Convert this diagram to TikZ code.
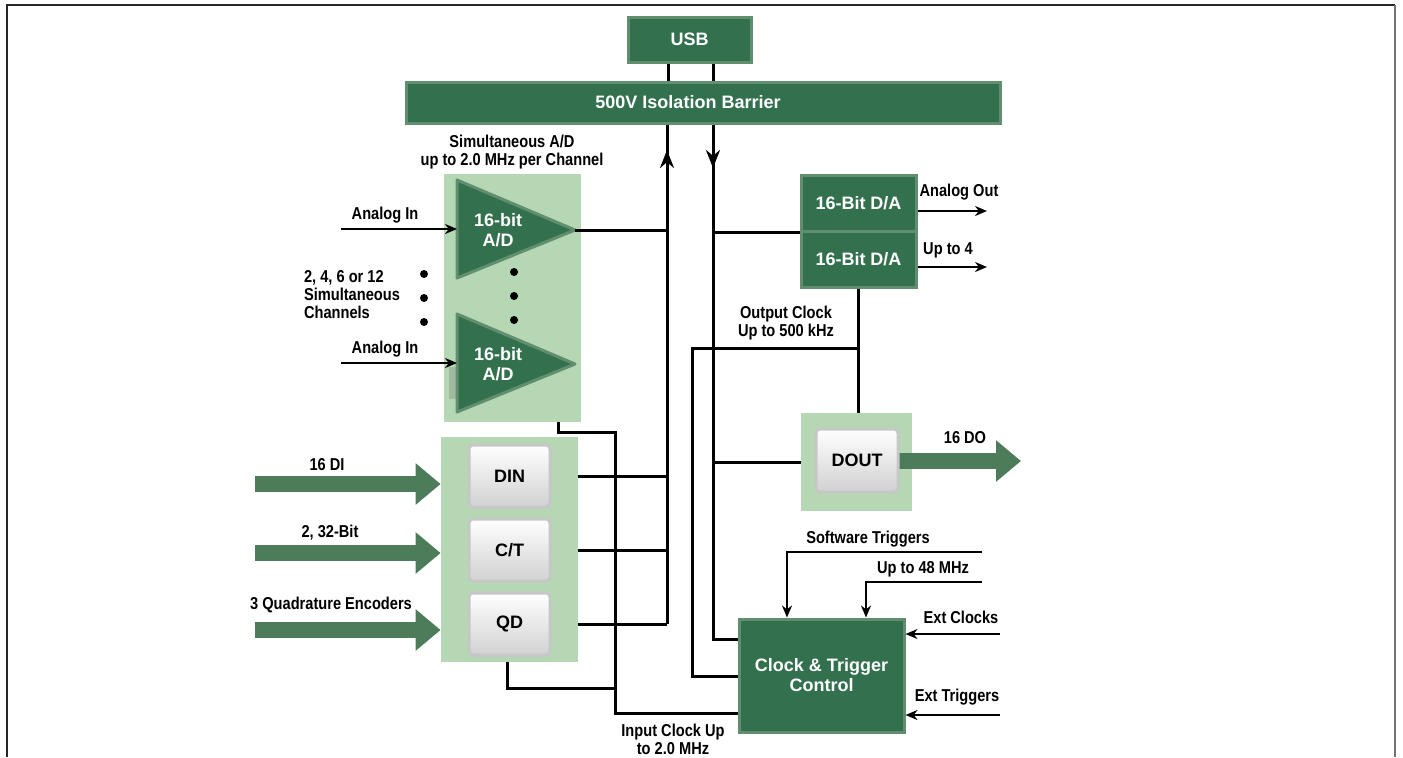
\documentclass[tikz,border=0pt]{standalone}
\usepackage{fontspec}
\setmainfont{Liberation Sans}
\newfontfamily\narrowfont[FakeStretch=0.85]{Liberation Sans}
\usetikzlibrary{arrows.meta}
\definecolor{boardgreen}{RGB}{50,112,78}
\definecolor{bevelgreen}{RGB}{96,142,110}
\definecolor{arrowgreen}{RGB}{76,124,90}
\definecolor{panelgreen}{RGB}{181,215,179}
\definecolor{shadegreen}{RGB}{160,186,160}
\newcommand{\dqlabel}{\narrowfont\bfseries\fontsize{8.6}{9}\selectfont}
\newcommand{\dqbox}{\bfseries\fontsize{9}{10}\selectfont}
\tikzset{
  greenbox/.style={draw=bevelgreen, line width=1.5pt, fill=boardgreen, text=white, font=\dqbox, align=center, inner sep=0pt},
  panel/.style={fill=panelgreen, inner sep=0pt},
  button/.style={draw=black!22, line width=1.5pt, top color=white, middle color=white, bottom color=black!18, rounded corners=2pt, font=\dqbox, inner sep=0pt, minimum width=40.5pt, minimum height=31pt},
  amp/.style={draw=bevelgreen, line width=1.5pt, fill=boardgreen, line join=round},
  wire/.style={line width=1.5pt},
  sig/.style={line width=1.2pt, ->},
  fat/.style={line width=8pt, arrowgreen, -{Triangle[length=12.5pt,width=20pt]}},
  busarrow/.style={line width=1.5pt, -{Stealth[length=9pt,width=7pt]}}
}
\begin{document}
\begin{tikzpicture}[x=0.5pt, y=-0.5pt, >={Stealth[length=6pt,width=5pt]}, font=\dqlabel]
\useasboundingbox (0,0) rectangle (1403,757);
% frame
\draw[line width=1pt, black!85] (7,757) -- (7,5) -- (1395,5);
\draw[line width=1.2pt, black!55] (1395,5) -- (1395,757);

% usb and barrier
\node[greenbox, minimum width=61.5pt, minimum height=22.5pt] (usb) at (689.5,39.5) {USB};
\node[greenbox, minimum width=297pt, minimum height=20.5pt] (barrier) at (703,102.5) {\hspace*{-15pt}500V Isolation Barrier};
\foreach \x in {668,713} \draw[wire] (\x,0 |- usb.south) -- (\x,0 |- barrier.north);

% simultaneous A/D
\node[panel, minimum width=68.5pt, minimum height=124pt] (adpanel) at (512.5,298) {};
\fill[shadegreen] (449,367) rectangle (457,399);
\foreach \y/\n in {230/adA, 364/adB}{
  \draw[amp] (457,{\y-50}) -- (575,\y) coordinate (tip\n) -- (457,{\y+48}) -- cycle;
  \node[text=white, font=\dqbox, align=center] (\n) at (498,\y) {16-bit\\A/D};
  \coordinate (in\n) at (341,{\y-1});
  \draw[sig] (in\n) -- (457,{\y-1});
  \node (lbl\n) at (385,{\y-15}) {Analog In};
}
\foreach \y in {274,298,322} \fill (424,\y) circle (2pt) (514,{\y-2}) circle (2pt);
\node[align=center] (adtitle) at (512,152) {Simultaneous A/D\\up to 2.0 MHz per Channel};
\node[anchor=west, align=left] (chans) at (297,295) {2, 4, 6 or 12\\Simultaneous\\Channels};

% digital inputs
\node[panel, minimum width=68.5pt, minimum height=112.5pt] (iopanel) at (509.5,549.5) {};
\foreach \y/\n/\t in {476/din/DIN, 550/cnt/{C/T}, 624/qd/QD}
  \node[button] (\n) at (509.5,\y) {\t};
\foreach \y/\t/\lx/\ly in {484/16 DI/327/465, 553/{2, 32-Bit}/330/533, 630/3 Quadrature Encoders/331/605}{
  \draw[fat] (255,\y) -- (iopanel.west |- 0,\y);
  \node at (\lx,\ly) {\t};
}

% D/A and DOUT
\node[greenbox, minimum width=57.5pt, minimum height=28pt] (daA) at (858.5,203) {16-Bit D/A};
\node[greenbox, minimum width=57.5pt, minimum height=28pt] (daB) at (858.5,259) {16-Bit D/A};
\draw[sig] (daA.east |- 0,211) -- (987,211);
\draw[sig] (daB.east |- 0,267) -- (987,267);
\node (aout) at (959,192) {Analog Out};
\node (upto4) at (948,250) {Up to 4};
\node[panel, minimum width=55.5pt, minimum height=49pt] (doutpanel) at (856.5,462) {};
\draw[fat] (898,461) -- (1021,461);
\node[button, minimum width=41pt, minimum height=31.5pt] (dout) at (857,460.5) {DOUT};
\node (dolbl) at (965,438) {16 DO};

% clock and trigger
\node[greenbox, minimum width=82.5pt, minimum height=56.5pt] (clk) at (821.5,675.5) {Clock \& Trigger\\Control};
\draw[sig] (982,552) -- (787,552) -- (787,0 |- clk.north);
\draw[sig] (982,582) -- (866,582) -- (866,0 |- clk.north);
\draw[sig] (1000,634) -- (clk.east |- 0,634);
\draw[sig] (1000,715) -- (clk.east |- 0,715);
\node (swtrig) at (868,539) {Software Triggers};
\node (mhz48) at (923,569) {Up to 48 MHz};
\node (extclk) at (961,617) {Ext Clocks};
\node (exttrig) at (957,697) {Ext Triggers};

% bus towards the barrier
\draw[wire] (tipadA) -- (667,0 |- tipadA);
\foreach \n in {din,cnt,qd} \draw[wire] (iopanel.east |- \n) -- (667,0 |- \n);
\draw[wire] (667,0 |- qd) -- (667,0 |- barrier.south);
\draw[busarrow] (667,200) -- (667,150);

% bus from the barrier
\draw[wire] (713,0 |- barrier.south) -- (713,639) -- (clk.west |- 0,639);
\draw[busarrow] (713,130) -- (713,168);
\draw[wire] (713,0 |- daA.south west) -- (daA.south west);
\draw[wire] (713,0 |- doutpanel.west) -- (doutpanel.west);

% output clock
\draw[wire] (daB.south) -- (daB.south |- doutpanel.north);
\draw[wire] (daB.south |- 0,348) -- (692,348) -- (692,676) -- (clk.west |- 0,676);
\node[align=center] (oclk) at (786,323) {Output Clock\\Up to 500 kHz};

% input clock
\draw[wire] (558,0 |- adpanel.south) -- (558,432) -- (615,432) -- (615,713) -- (clk.west |- 0,713);
\draw[wire] (507,0 |- iopanel.south) -- (507,688) -- (615,688);
\node[align=center] (iclk) at (673,739) {Input Clock Up\\to 2.0 MHz};
\end{tikzpicture}
\end{document}
